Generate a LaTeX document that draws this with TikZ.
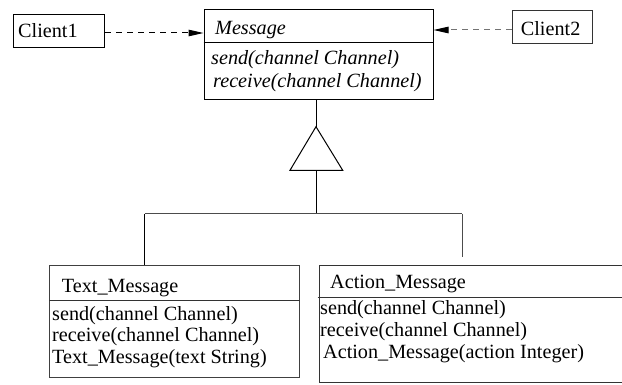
\documentclass[tikz,border=0pt]{standalone}
\usepackage{fontspec}
\setmainfont{Liberation Serif}
\usetikzlibrary{arrows.meta}
\begin{document}
\begin{tikzpicture}[x=1pt,y=-1pt,
  box/.style={draw=#1,line width=1pt,fill=none,inner sep=0pt,anchor=north west},
  box/.default=black,
  txt/.style={anchor=base west,inner sep=0pt,font=\fontsize{20.2}{22}\selectfont},
  itxt/.style={txt,font=\fontsize{20.2}{22}\selectfont\itshape},
  sep/.style={draw=#1,line width=1pt},
  sep/.default=black,
  link/.style={line width=1pt},
  dep/.style={line width=1pt,dash pattern=on 6pt off 5pt,
    -{Triangle[length=15pt,width=6.5pt,color=black]}},
]
\useasboundingbox (0,0) rectangle (622,385);
\clip (0,0) rectangle (622,385);

% clients
\node[box,minimum width=91.3pt,minimum height=33pt] (c1) at (12.7,14) {};
\node[txt] (c1t) at (18,38) {Client1};
\node[box=black!80,minimum width=80.3pt,minimum height=33pt] (c2) at (511.7,10) {};
\node[txt] (c2t) at (520.7,36) {Client2};

% abstract class Message
\node[box,minimum width=229pt,minimum height=90pt] (msg) at (203.5,9) {};
\draw[sep] (msg.west |- 0,43) -- (msg.east |- 0,43);
\node[itxt] (msgn) at (215,35) {Message};
\node[itxt] (msg1) at (211,65) {send(channel Channel)};
\node[itxt] (msg2) at (213,88) {receive(channel Channel)};

% dependencies of the clients
\draw[dep] (c1.east |- 0,33) -- (msg.west |- 0,33);
\draw[dep,draw=black!55] (c2.west |- 0,30) -- (msg.east |- 0,30);

% generalisation triangle
\coordinate (apex) at (316,126.7);
\coordinate (bl) at (290,170.3);
\coordinate (br) at (342.7,170.3);
\coordinate (join) at (316,214);
\draw[link] (apex) -- (bl) -- (br) -- cycle;
\draw[link] (msg.south -| apex) -- (apex);
\draw[link] (apex |- bl) -- (join);

% subclasses
\node[box=black!75,minimum width=250pt,minimum height=112pt] (tm) at (49,265) {};
\draw[sep=black!80] (tm.west |- 0,300.7) -- (tm.east |- 0,300.7);
\node[txt] (tmn) at (61.7,292) {Text\_Message};
\node[txt] (tm1) at (52,320.7) {send(channel Channel)};
\node[txt] (tm2) at (52,341.7) {receive(channel Channel)};
\node[txt] (tm3) at (52,363) {Text\_Message(text String)};

\node[box=black!80,minimum width=320pt,minimum height=116.5pt] (am) at (319.3,265) {};
\draw[sep=black!80] (317.5,297.7) -- (am.east |- 0,297.7);
\node[txt] (amn) at (330,288.5) {Action\_Message};
\node[txt] (am1) at (320,315) {send(channel Channel)};
\node[txt] (am2) at (320,336.7) {receive(channel Channel)};
\node[txt] (am3) at (323,358) {Action\_Message(action Integer)};

% inheritance tree
\coordinate (tl) at (144.5,214);
\coordinate (tr) at (462,214);
\coordinate (rend) at (462,257);
\draw[link,draw=black!70] (tl) -- (tr);
\draw[link] (tl) -- (tl |- tm.north);
\draw[link,draw=black!70] (tr) -- (rend);
\end{tikzpicture}
\end{document}
